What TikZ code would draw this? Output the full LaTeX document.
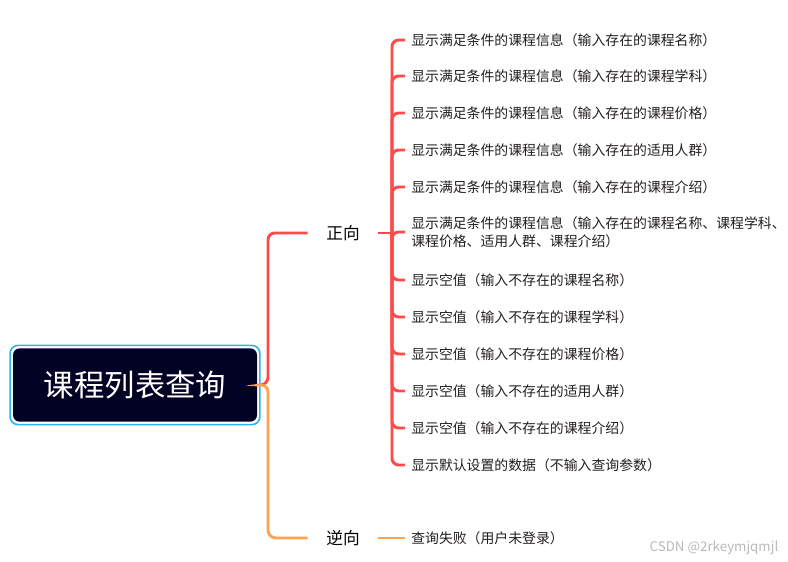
\documentclass[tikz,border=0pt]{standalone}
\usepackage{fontspec}
\setmainfont{Noto Sans CJK SC}
\usepackage{tikz}
\usetikzlibrary{fit}
\usepackage{xcolor}
\definecolor{ink}{RGB}{35,30,30}
\definecolor{cRoot}{RGB}{2,2,36}
\definecolor{cRing}{RGB}{40,180,240}
\definecolor{cPos}{RGB}{255,74,74}
\definecolor{cNeg}{RGB}{255,162,82}
\definecolor{cMark}{RGB}{185,185,185}
\tikzset{
  rootbox/.style={fill=cRoot,text=white,rounded corners=5pt,inner sep=0pt,
    minimum width=183pt,minimum height=55pt,font=\fontsize{22.8}{27}\selectfont},
  ring/.style={draw=cRing,line width=1.2pt,rounded corners=6pt,inner sep=2pt},
  side/.style={text=black,inner sep=0pt,minimum width=52.5pt,
    font=\fontsize{12.5}{15}\selectfont},
  leaf/.style={anchor=west,text=ink,inner xsep=4.5pt,inner ysep=1pt,align=left,
    font=\fontsize{10.4}{13.4}\selectfont},
  posline/.style={draw=cPos,line width=2.2pt,rounded corners=5pt},
  negline/.style={draw=cNeg,line width=2.2pt,rounded corners=6pt},
}

\begin{document}
\begin{tikzpicture}[x=0.75pt,y=-0.75pt]
  \useasboundingbox (0,0) rectangle (788,561);

  % root
  \node[rootbox] (root) at (135,385) {课程列表查询};
  \node[ring,fit=(root)] (rootring) {};
  \coordinate (fork) at (268,384);

  % first level
  \node[side] (zx) at (343,233) {正向};
  \node[side] (nx) at (343,538) {逆向};
  \draw[posline] (rootring.east) -- (fork) |- (zx.west);
  \draw[negline] (rootring.east) -- (fork) |- (nx.west);

  % positive cases
  \coordinate (sp) at (392,233);
  \node[leaf] (p1) at (405,40)  {显示满足条件的课程信息（输入存在的课程名称）};
  \node[leaf] (p2) at (405,76)  {显示满足条件的课程信息（输入存在的课程学科）};
  \node[leaf] (p3) at (405,113) {显示满足条件的课程信息（输入存在的课程价格）};
  \node[leaf] (p4) at (405,150) {显示满足条件的课程信息（输入存在的适用人群）};
  \node[leaf] (p5) at (405,187) {显示满足条件的课程信息（输入存在的课程介绍）};
  \node[leaf] (p6) at (405,232) {显示满足条件的课程信息（输入存在的课程名称、课程学科、\\课程价格、适用人群、课程介绍）};
  \node[leaf] (p7) at (405,280) {显示空值（输入不存在的课程名称）};
  \node[leaf] (p8) at (405,317) {显示空值（输入不存在的课程学科）};
  \node[leaf] (p9) at (405,354) {显示空值（输入不存在的课程价格）};
  \node[leaf] (p10) at (405,391) {显示空值（输入不存在的适用人群）};
  \node[leaf] (p11) at (405,428) {显示空值（输入不存在的课程介绍）};
  \node[leaf] (p12) at (405,465) {显示默认设置的数据（不输入查询参数）};
  \draw[posline] (zx.east) -- (sp);
  \draw[posline] (sp) |- (p1.west); \draw[posline] (sp) |- (p2.west); \draw[posline] (sp) |- (p3.west);
  \draw[posline] (sp) |- (p4.west); \draw[posline] (sp) |- (p5.west); \draw[posline] (sp) |- (p6.west);
  \draw[posline] (sp) |- (p7.west); \draw[posline] (sp) |- (p8.west); \draw[posline] (sp) |- (p9.west);
  \draw[posline] (sp) |- (p10.west); \draw[posline] (sp) |- (p11.west); \draw[posline] (sp) |- (p12.west);

  % negative case
  \node[leaf] (n1) at (405,538) {查询失败（用户未登录）};
  \draw[negline] (nx.east) -- (n1.west);

  \node[text=cMark,anchor=east,font=\fontsize{10}{12}\selectfont] (mark) at (783,548) {CSDN @2rkeymjqmjl};
\end{tikzpicture}
\end{document}
